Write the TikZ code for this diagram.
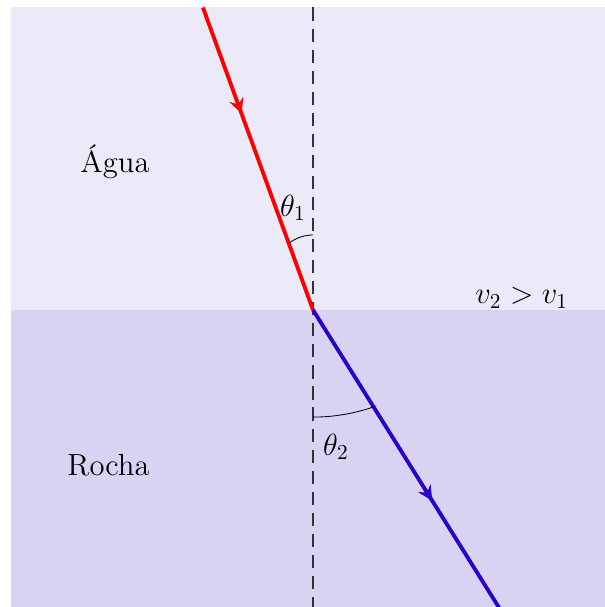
\documentclass[tikz,border=0pt]{standalone}
\usepackage{amsmath}
\usepackage{amssymb}
\usetikzlibrary{arrows.meta, decorations.markings}

\definecolor{agua}{RGB}{236,234,249}
\definecolor{rocha}{RGB}{217,211,243}
\definecolor{raioazul}{RGB}{41,0,204}

\tikzset{
    raio/.style={line width=1.8pt},
    seta/.style={postaction={decorate}, decoration={markings,
        mark=at position #1 with {\arrow[line width=1pt]{Stealth[length=7pt, width=7pt, inset=2.5pt]}}}}
}

\begin{document}
\begin{tikzpicture}[
                every node/.style={inner sep=1pt, font=\Large}
            ]
            \useasboundingbox (-5.174, -4.909) rectangle (4.826, 5.124);
            \begin{scope}
                \clip (-5.174, -4.909) rectangle (4.826, 5.124);

                \fill[agua] (-5, 0) rectangle (5, 5);
                \fill[rocha] (-5, -5) rectangle (5, 0);

                \coordinate (O) at (0, 0);
                \coordinate (A) at (110:5.32);
                \coordinate (B) at (-58:5.9);

                \draw[black!80, line width=0.7pt, dash pattern=on 6.2pt off 3.7pt] (0, 5) -- (0, -5);

                \draw[raio, red, seta=0.35] (A) -- (O);
                \draw[raio, raioazul, seta=0.63] (O) -- (B);

                \draw (0, 1.24) arc (90:128:0.645);
                \draw (0, -1.77) arc (270:289.6:3.06);
            \end{scope}

            \node (theta1) at (-0.33, 1.69) {$\theta_1$};
            \node (theta2) at (0.38, -2.26) {$\theta_2$};

            \node[anchor=east] (agualbl) at (-2.66, 2.45) {Água};
            \node[anchor=east] (rochalbl) at (-2.66, -2.56) {Rocha};
            \node (vel) at (3.45, 0.2) {$v_2 > v_1$};
        \end{tikzpicture}
\end{document}
